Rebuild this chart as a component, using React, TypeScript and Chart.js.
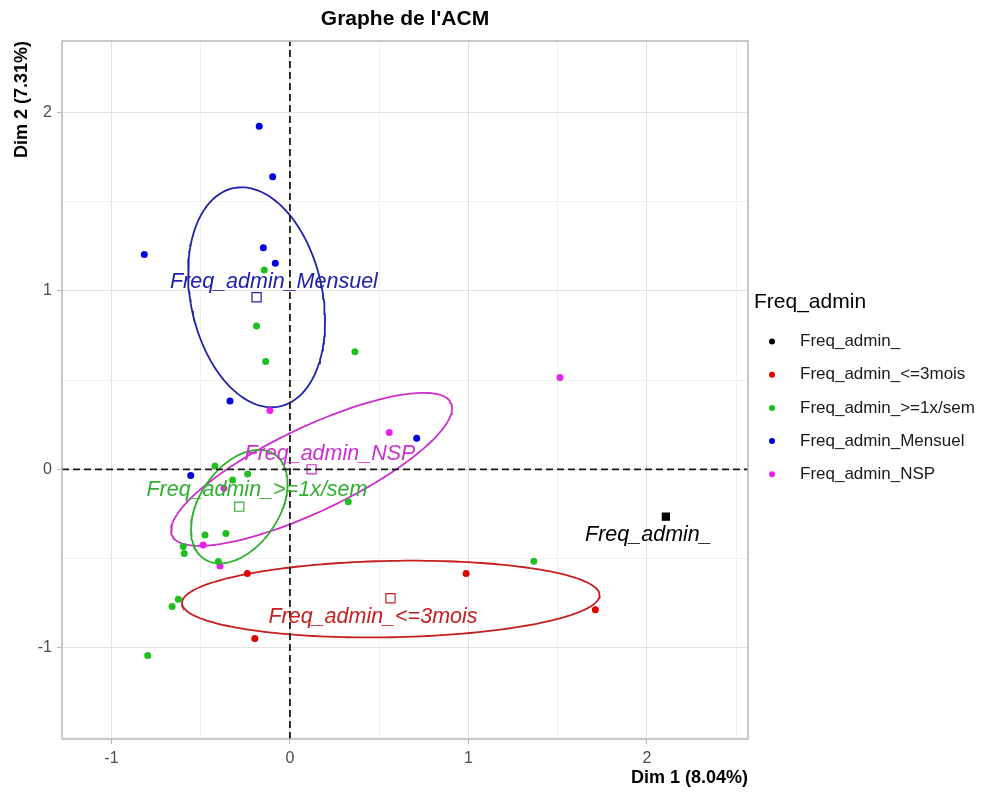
import React, { useEffect, useRef } from 'react';
import { Chart, registerables } from 'chart.js';

Chart.register(...registerables);

// ---------- text ----------
const chartTitle = "Graphe de l'ACM";
const xTitle = 'Dim 1 (8.04%)';
const yTitle = 'Dim 2 (7.31%)';
const legendTitle = 'Freq_admin';
const groupNames = ['Freq_admin_', 'Freq_admin_<=3mois', 'Freq_admin_>=1x/sem', 'Freq_admin_Mensuel', 'Freq_admin_NSP'];
const pointColors = ['#000000', '#E00000', '#1EC01E', '#0000DD', '#EE1EEE'];
const lineColors = ['#000000', '#C42020', '#30B030', '#2020A8', '#CC30CC'];

// ---------- axes ----------
const xRange = [-1.277, 2.566];
const yRange = [-1.511, 2.4];
const xTickValues = [-1, 0, 1, 2];
const yTickValues = [-1, 0, 1, 2];

// ---------- individuals by group ----------
const indBlankX = [2.106];
const indBlankY = [-0.265];
const ind3moisX = [-0.239, 0.987, -0.197, 1.711];
const ind3moisY = [-0.583, -0.583, -0.948, -0.787];
const indSemX = [-0.144, -0.187, -0.136, 0.364, -0.42, -0.321, -0.237, 0.327, -0.476, -0.359, -0.598, -0.592, -0.401, -0.625, -0.66, -0.797, 1.366];
const indSemY = [1.117, 0.803, 0.604, 0.659, 0.019, -0.06, -0.026, -0.181, -0.368, -0.359, -0.433, -0.471, -0.517, -0.728, -0.769, -1.043, -0.515];
const indMensX = [-0.172, -0.097, -0.816, -0.149, -0.082, -0.336, 0.71, -0.556];
const indMensY = [1.923, 1.639, 1.204, 1.242, 1.155, 0.383, 0.174, -0.035];
const indNspX = [-0.112, 0.556, 1.513, -0.486, -0.392, -0.37];
const indNspY = [0.329, 0.207, 0.515, -0.424, -0.542, -0.106];

// ---------- group centroids (same order as groupNames) ----------
const centX = [2.106, 0.563, -0.284, -0.187, 0.121];
const centY = [-0.265, -0.722, -0.209, 0.964, 0.0];

// ---------- concentration ellipses (groups 1..4) ----------
const ellGroup = [1, 2, 3, 4];
const ellCX = [0.565, -0.284, -0.187, 0.121];
const ellCY = [-0.727, -0.209, 0.964, 0.0];
const ellA = [1.17, 0.353, 0.625, 0.865];
const ellB = [0.214, 0.223, 0.369, 0.235];
const ellAngle = [1.1, 56, 102, 25.5];

// ---------- group labels ----------
const labelX = [2.008, 0.465, -0.185, -0.09, 0.224];
const labelY = [-0.368, -0.829, -0.116, 1.051, 0.086];

const FONT = "'Liberation Sans', Arial, sans-serif";

function zip(xs: number[], ys: number[]) {
  return xs.map((x, i) => ({ x, y: ys[i] }));
}

function ellipsePoints(k: number) {
  const pts: { x: number; y: number }[] = [];
  const th = (ellAngle[k] * Math.PI) / 180;
  const n = 180;
  for (let i = 0; i <= n; i++) {
    const t = (i / n) * Math.PI * 2;
    const ca = ellA[k] * Math.cos(t);
    const sb = ellB[k] * Math.sin(t);
    pts.push({
      x: ellCX[k] + ca * Math.cos(th) - sb * Math.sin(th),
      y: ellCY[k] + ca * Math.sin(th) + sb * Math.cos(th),
    });
  }
  return pts;
}

const overlayPlugin = {
  id: 'overlay',
  afterDatasetsDraw(chart: any) {
    const { ctx, scales } = chart;
    const xs = scales.x;
    const ys = scales.y;
    ctx.save();
    ctx.font = `italic 21.5px ${FONT}`;
    ctx.textAlign = 'center';
    ctx.textBaseline = 'middle';
    groupNames.forEach((name, i) => {
      ctx.fillStyle = i === 0 ? '#000000' : lineColors[i];
      ctx.fillText(name, xs.getPixelForValue(labelX[i]), ys.getPixelForValue(labelY[i]));
    });
    ctx.restore();
  },
  afterDraw(chart: any) {
    const { ctx, chartArea } = chart;
    const { left, right, top, bottom } = chartArea;
    ctx.save();
    // panel border
    ctx.strokeStyle = '#b8b8b8';
    ctx.lineWidth = 1.5;
    ctx.strokeRect(left, top, right - left, bottom - top);

    // title
    ctx.fillStyle = '#000000';
    ctx.font = `bold 21px ${FONT}`;
    ctx.textAlign = 'center';
    ctx.textBaseline = 'middle';
    ctx.fillText(chartTitle, (left + right) / 2, 19);

    // axis titles
    ctx.font = `bold 18px ${FONT}`;
    ctx.textAlign = 'right';
    ctx.fillText(xTitle, right, 778);
    ctx.save();
    ctx.translate(22, top);
    ctx.rotate(-Math.PI / 2);
    ctx.textAlign = 'right';
    ctx.fillText(yTitle, 0, 0);
    ctx.restore();

    // legend
    ctx.textAlign = 'left';
    ctx.font = `21px ${FONT}`;
    ctx.fillStyle = '#000000';
    ctx.fillText(legendTitle, 754, 302);
    ctx.font = `17px ${FONT}`;
    groupNames.forEach((name, i) => {
      const y = 341.5 + i * 33.2;
      ctx.beginPath();
      ctx.arc(772, y, 3, 0, Math.PI * 2);
      ctx.fillStyle = pointColors[i];
      ctx.fill();
      ctx.fillStyle = '#1a1a1a';
      ctx.fillText(name, 800, y);
    });
    ctx.restore();
  },
};

export default function App() {
  const ref = useRef<HTMLCanvasElement | null>(null);

  useEffect(() => {
    if (!ref.current) return;
    const indX = [indBlankX, ind3moisX, indSemX, indMensX, indNspX];
    const indY = [indBlankY, ind3moisY, indSemY, indMensY, indNspY];

    const datasets: any[] = [];
    // zero reference lines
    datasets.push({
      data: [{ x: 0, y: yRange[0] }, { x: 0, y: yRange[1] }],
      showLine: true,
      borderColor: '#1a1a1a',
      borderWidth: 1.8,
      borderDash: [7, 4],
      pointRadius: 0,
      fill: false,
    });
    datasets.push({
      data: [{ x: xRange[0], y: 0 }, { x: xRange[1], y: 0 }],
      showLine: true,
      borderColor: '#1a1a1a',
      borderWidth: 1.8,
      borderDash: [7, 4],
      pointRadius: 0,
      fill: false,
    });
    // individuals
    groupNames.forEach((name, i) => {
      datasets.push({
        label: name,
        data: zip(indX[i], indY[i]),
        pointRadius: 3.5,
        pointBackgroundColor: pointColors[i],
        pointBorderColor: pointColors[i],
        pointBorderWidth: 0,
        showLine: false,
      });
    });
    // ellipses
    ellGroup.forEach((g, k) => {
      datasets.push({
        data: ellipsePoints(k),
        showLine: true,
        borderColor: lineColors[g],
        borderWidth: 1.8,
        pointRadius: 0,
        tension: 0,
        fill: false,
      });
    });
    // centroids
    groupNames.forEach((name, i) => {
      datasets.push({
        data: [{ x: centX[i], y: centY[i] }],
        pointStyle: 'rect',
        pointRadius: i === 0 ? 5 : 6.5,
        pointBackgroundColor: i === 0 ? '#000000' : 'rgba(255,255,255,0)',
        pointBorderColor: lineColors[i],
        pointBorderWidth: 1.2,
        showLine: false,
      });
    });

    const gridColor = (c: any) => (Number.isInteger(c.tick?.value) ? '#e2e2e2' : '#f1f1f1');
    const tickColor = (c: any) => (Number.isInteger(c.tick?.value) ? '#b8b8b8' : 'rgba(0,0,0,0)');

    const chart = new Chart(ref.current, {
      type: 'scatter',
      data: { datasets },
      plugins: [overlayPlugin],
      options: {
        animation: false,
        responsive: false,
        events: [],
        layout: { padding: { top: 41, right: 233, left: 0, bottom: 0 } },
        plugins: { legend: { display: false }, tooltip: { enabled: false }, title: { display: false } },
        scales: {
          x: {
            type: 'linear',
            min: xRange[0],
            max: xRange[1],
            afterFit: (s: any) => { s.height = 55; },
            border: { display: false },
            grid: { color: gridColor, tickColor, lineWidth: 1, drawTicks: true, tickLength: 5 },
            ticks: {
              stepSize: 0.5,
              includeBounds: false,
              autoSkip: false,
              maxRotation: 0,
              padding: 5,
              color: '#4d4d4d',
              font: { family: FONT, size: 16 },
              callback: (v: any) => (xTickValues.includes(Number(v)) ? String(v) : ''),
            },
          },
          y: {
            type: 'linear',
            min: yRange[0],
            max: yRange[1],
            afterFit: (s: any) => { s.width = 62; },
            border: { display: false },
            grid: { color: gridColor, tickColor, lineWidth: 1, drawTicks: true, tickLength: 5 },
            ticks: {
              stepSize: 0.5,
              includeBounds: false,
              autoSkip: false,
              padding: 5,
              color: '#4d4d4d',
              font: { family: FONT, size: 16 },
              callback: (v: any) => (yTickValues.includes(Number(v)) ? String(v) : ''),
            },
          },
        },
      } as any,
    });
    return () => chart.destroy();
  }, []);

  return (
    <div style={{ position: 'fixed', left: 0, top: 0, width: 981, height: 794, background: '#ffffff' }}>
      <canvas ref={ref} width={981} height={794} style={{ width: 981, height: 794, display: 'block' }} />
    </div>
  );
}
